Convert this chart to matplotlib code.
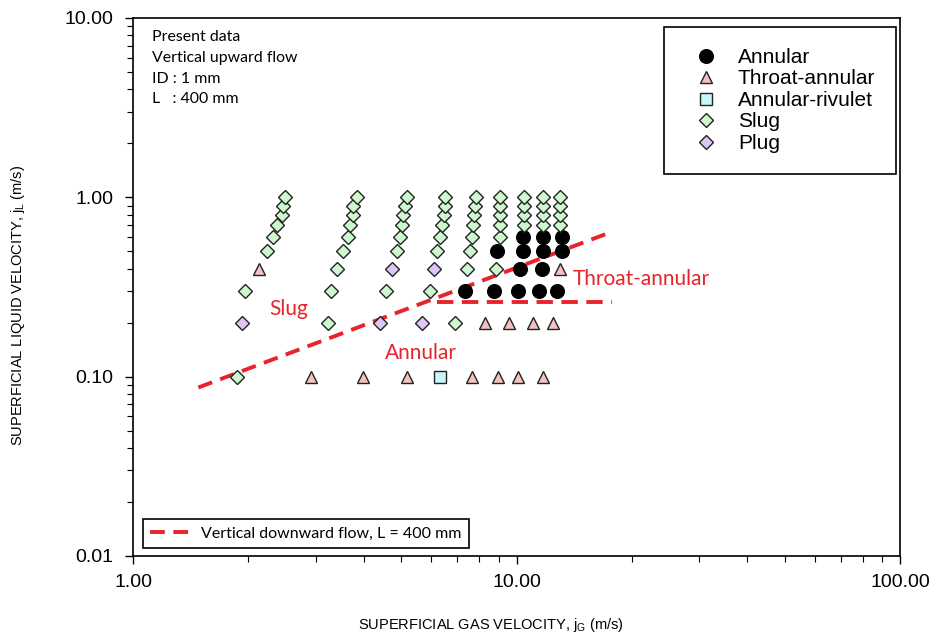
import matplotlib.pyplot as plt
from matplotlib.lines import Line2D
from matplotlib.ticker import FuncFormatter, NullFormatter

# flow pattern map, superficial gas / liquid velocity (m/s)
annular_jg = [7.34, 8.74, 10.09, 11.45, 12.76, 10.21, 11.66, 8.90, 10.40, 11.73, 13.14, 10.40, 11.73, 13.14]
annular_jl = [0.3, 0.3, 0.3, 0.3, 0.3, 0.4, 0.4, 0.5, 0.5, 0.5, 0.5, 0.6, 0.6, 0.6]

throat_jg = [2.91, 3.98, 5.18, 7.66, 8.95, 10.09, 11.73, 8.28, 9.56, 11.04, 12.45, 2.13, 12.99]
throat_jl = [0.1, 0.1, 0.1, 0.1, 0.1, 0.1, 0.1, 0.2, 0.2, 0.2, 0.2, 0.4, 0.4]

rivulet_jg = [6.32]
rivulet_jl = [0.1]

slug_jg = [1.87, 1.96, 2.24, 2.32, 2.38, 2.44, 2.46, 2.49,
           3.23, 3.28, 3.40, 3.53, 3.64, 3.68, 3.75, 3.75, 3.84,
           4.57, 4.88, 4.97, 5.03, 5.06, 5.12, 5.18,
           6.91, 5.95, 6.21, 6.32, 6.39, 6.47, 6.51, 6.51,
           7.43, 7.57, 7.66, 7.71, 7.75, 7.80, 7.84,
           8.84, 9.06, 9.06, 9.06, 9.06, 9.06,
           10.46, 10.46, 10.46, 10.46,
           11.73, 11.73, 11.73, 11.73,
           12.99, 12.99, 12.99, 12.99]
slug_jl = [0.1, 0.3, 0.5, 0.6, 0.7, 0.8, 0.9, 1.0,
           0.2, 0.3, 0.4, 0.5, 0.6, 0.7, 0.8, 0.9, 1.0,
           0.3, 0.5, 0.6, 0.7, 0.8, 0.9, 1.0,
           0.2, 0.3, 0.5, 0.6, 0.7, 0.8, 0.9, 1.0,
           0.4, 0.5, 0.6, 0.7, 0.8, 0.9, 1.0,
           0.4, 0.6, 0.7, 0.8, 0.9, 1.0,
           0.7, 0.8, 0.9, 1.0,
           0.7, 0.8, 0.9, 1.0,
           0.7, 0.8, 0.9, 1.0]

plug_jg = [1.92, 4.41, 5.67, 4.74, 6.10]
plug_jl = [0.2, 0.2, 0.2, 0.4, 0.4]

# transition boundaries for vertical downward flow
bound1_jg = [1.48, 17.3]
bound1_jl = [0.087, 0.63]
bound2_jg = [6.2, 17.7]
bound2_jl = [0.26, 0.26]

plt.rcParams['font.family'] = ['Liberation Sans', 'DejaVu Sans']
plt.rcParams['mathtext.fontset'] = 'custom'
plt.rcParams['mathtext.rm'] = 'Liberation Sans'

RED = '#e8232b'
EDGE = '#222222'

fig = plt.figure(figsize=(9.38, 6.38), dpi=100)
ax = fig.add_axes([133 / 938, 1 - 556 / 638, 767 / 938, 538 / 638])

ax.plot(annular_jg, annular_jl, 'o', ms=10, mfc='black', mec='black', mew=0.8, ls='none', label='Annular')
ax.plot(throat_jg, throat_jl, '^', ms=8.5, mfc='#f5c0c0', mec=EDGE, mew=1.0, ls='none', label='Throat-annular')
ax.plot(rivulet_jg, rivulet_jl, 's', ms=8, mfc='#c4f7f7', mec=EDGE, mew=1.0, ls='none', label='Annular-rivulet')
ax.plot(slug_jg, slug_jl, 'D', ms=7.5, mfc='#cdf7cd', mec=EDGE, mew=1.0, ls='none', label='Slug')
ax.plot(plug_jg, plug_jl, 'D', ms=7.5, mfc='#dcc6f5', mec=EDGE, mew=1.0, ls='none', label='Plug')

ax.plot(bound1_jg, bound1_jl, color=RED, lw=2.8, dashes=(3.8, 2.2), zorder=1)
ax.plot(bound2_jg, bound2_jl, color=RED, lw=2.8, dashes=(4.2, 2.2), zorder=1)

ax.set_xscale('log')
ax.set_yscale('log')
ax.set_xlim(1, 100)
ax.set_ylim(0.01, 10)

fmt = FuncFormatter(lambda v, pos: f'{v:.2f}')
ax.xaxis.set_major_formatter(fmt)
ax.yaxis.set_major_formatter(fmt)
ax.xaxis.set_minor_formatter(NullFormatter())
ax.yaxis.set_minor_formatter(NullFormatter())
ax.tick_params(which='major', length=6, width=1, labelsize=14, pad=7)
ax.tick_params(axis='y', which='major', pad=8)
ax.tick_params(which='minor', length=4, width=0.8)
for sp in ax.spines.values():
    sp.set_linewidth(1.2)

ax.set_xlabel('SUPERFICIAL GAS VELOCITY, j$_\\mathregular{G}$ (m/s)', fontsize=10.5)
ax.set_ylabel('SUPERFICIAL LIQUID VELOCITY, j$_\\mathregular{L}$ (m/s)', fontsize=10.5)
ax.xaxis.set_label_coords(0.467, -0.112)
ax.yaxis.set_label_coords(-0.138, 0.465)

ax.text(0.025, 0.977, 'Present data\nVertical upward flow\nID : 1 mm\nL   : 400 mm',
        transform=ax.transAxes, ha='left', va='top', fontsize=11.4, family='Lato', linespacing=1.6)

ax.text(2.54, 0.237, 'Slug', color=RED, fontsize=15, family='Lato', ha='center', va='center')
ax.text(5.64, 0.135, 'Annular', color=RED, fontsize=15, family='Lato', ha='center', va='center')
ax.text(21.1, 0.349, 'Throat-annular', color=RED, fontsize=15, family='Lato', ha='center', va='center')

leg1 = ax.legend(loc='upper right', bbox_to_anchor=(896 / 938, 1 - 27 / 638), bbox_transform=fig.transFigure,
                 fontsize=15, frameon=True, fancybox=False, edgecolor='black', framealpha=1,
                 borderpad=1.0, handlelength=2.0, handletextpad=0.55, labelspacing=0.12, borderaxespad=0)
leg1.get_frame().set_linewidth(1.2)
ax.add_artist(leg1)

bound_handle = Line2D([], [], color=RED, lw=2.8, dashes=(3.8, 2.2))
leg2 = ax.legend([bound_handle], ['Vertical downward flow, L = 400 mm'], loc='lower left',
                 bbox_to_anchor=(143 / 938, 1 - 548 / 638), bbox_transform=fig.transFigure,
                 prop={'family': 'Lato', 'size': 11.5}, frameon=True, fancybox=False, edgecolor='black',
                 framealpha=1, borderpad=0.45, handlelength=2.6, handletextpad=0.6, borderaxespad=0)
leg2.get_frame().set_linewidth(1.2)

fig.savefig('out.png', dpi=100)
